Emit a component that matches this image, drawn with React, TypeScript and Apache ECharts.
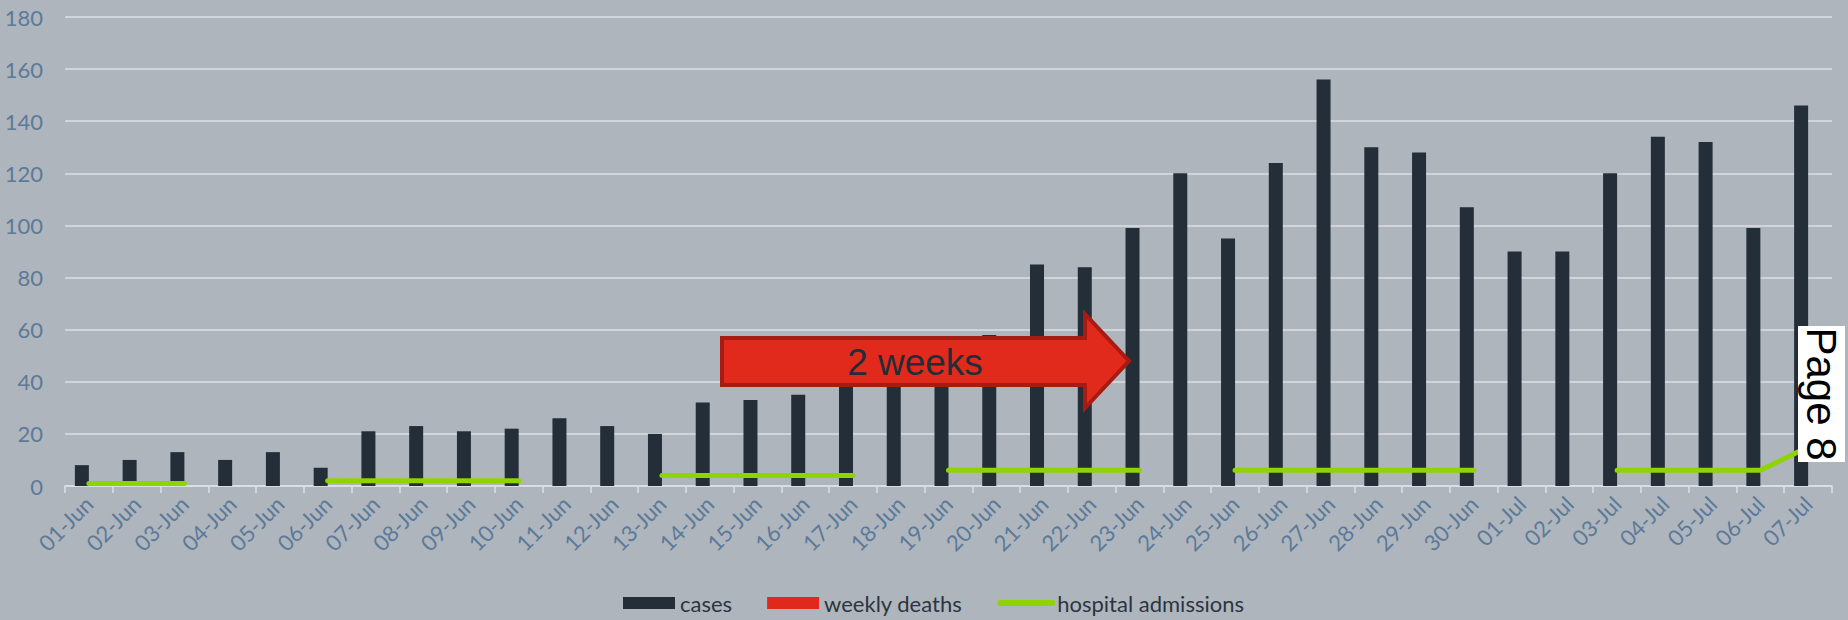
import React, { useEffect, useRef } from "react";
import * as echarts from "echarts";

const categories = [
  "01-Jun", "02-Jun", "03-Jun", "04-Jun", "05-Jun", "06-Jun", "07-Jun", "08-Jun", "09-Jun", "10-Jun",
  "11-Jun", "12-Jun", "13-Jun", "14-Jun", "15-Jun", "16-Jun", "17-Jun", "18-Jun", "19-Jun", "20-Jun",
  "21-Jun", "22-Jun", "23-Jun", "24-Jun", "25-Jun", "26-Jun", "27-Jun", "28-Jun", "29-Jun", "30-Jun",
  "01-Jul", "02-Jul", "03-Jul", "04-Jul", "05-Jul", "06-Jul", "07-Jul",
];

const cases = [
  8, 10, 13, 10, 13, 7, 21, 23, 21, 22,
  26, 23, 20, 32, 33, 35, 41, 45, 44, 58,
  85, 84, 99, 120, 95, 124, 156, 130, 128, 107,
  90, 90, 120, 134, 132, 99, 146,
];

const weeklyDeaths: (number | null)[] = categories.map(() => null);

const hospitalAdmissions: (number | null)[] = [
  1, 1, 1, null, null, 2, 2, 2, 2, 2,
  null, null, 4, 4, 4, 4, 4, null, 6, 6,
  6, 6, 6, null, 6, 6, 6, 6, 6, 6,
  null, null, 6, 6, 6, 6, 15,
];

const yTicks = { min: 0, max: 180, interval: 20 };

export default function App() {
  const ref = useRef<HTMLDivElement>(null);
  useEffect(() => {
    if (!ref.current) return;
    const chart = echarts.init(ref.current, undefined, { renderer: "svg" });
    const axisColor = "#5b7a99";
    const gridColor = "#dde1e6";
    const green = "#8fd400";
    chart.setOption({
      animation: false,
      backgroundColor: "#afb5bd",
      textStyle: { fontFamily: "Lato" },
      grid: { left: 65, right: 16, top: 17, bottom: 134, containLabel: false },
      legend: {
        left: 618,
        top: 587,
        itemWidth: 52,
        itemHeight: 12,
        itemGap: 35,
        textStyle: { color: "#2b3540", fontSize: 22, fontFamily: "Lato" },
        data: [
          { name: "cases", icon: "rect" },
          { name: "weekly deaths", icon: "rect" },
          {
            name: "hospital admissions",
            itemStyle: { opacity: 0 },
            lineStyle: { color: green, width: 6, cap: "round" },
          },
        ],
      },
      xAxis: {
        type: "category",
        data: categories,
        axisLine: { lineStyle: { color: gridColor, width: 1.5 } },
        axisTick: { show: true, length: 7, lineStyle: { color: gridColor, width: 1.5 } },
        axisLabel: { interval: 0, rotate: 45, color: axisColor, fontSize: 22, margin: 14, fontFamily: "Lato" },
      },
      yAxis: {
        type: "value",
        min: yTicks.min,
        max: yTicks.max,
        interval: yTicks.interval,
        axisLine: { show: false },
        axisTick: { show: false },
        axisLabel: { color: axisColor, fontSize: 22, margin: 22, fontFamily: "Lato" },
        splitLine: { lineStyle: { color: gridColor, width: 1.5 } },
      },
      series: [
        {
          name: "cases",
          type: "bar",
          data: cases,
          barWidth: 14,
          barGap: "0%",
          itemStyle: { color: "#232e39" },
        },
        {
          name: "weekly deaths",
          type: "bar",
          data: weeklyDeaths,
          barWidth: 14,
          itemStyle: { color: "#e0291a" },
        },
        {
          name: "hospital admissions",
          type: "line",
          data: hospitalAdmissions,
          symbol: "none",
          showSymbol: false,
          connectNulls: false,
          lineStyle: { color: green, width: 5, cap: "round" },
          itemStyle: { color: green },
          z: 5,
        },
      ],
      graphic: [
        {
          type: "polygon",
          z: 100,
          shape: {
            points: [
              [722, 338], [1085, 338], [1085, 314], [1129, 361],
              [1085, 408], [1085, 385], [722, 385],
            ],
          },
          style: { fill: "#e12a1b", stroke: "#a81b12", lineWidth: 4 },
        },
        {
          type: "text",
          z: 101,
          x: 915,
          y: 362,
          style: {
            text: "2 weeks",
            font: "37px 'Liberation Sans'",
            fill: "#232d38",
            align: "center",
            verticalAlign: "middle",
            textAlign: "center",
            textVerticalAlign: "middle",
          },
        },
        {
          type: "rect",
          z: 100,
          shape: { x: 1798, y: 326, width: 47, height: 136 },
          style: { fill: "#ffffff" },
        },
        {
          type: "text",
          z: 101,
          x: 1821,
          y: 394,
          rotation: -Math.PI / 2,
          style: {
            text: "Page 8",
            font: "42px 'Liberation Sans'",
            fill: "#000000",
            align: "center",
            verticalAlign: "middle",
            textAlign: "center",
            textVerticalAlign: "middle",
          },
        },
      ],
    });
    return () => chart.dispose();
  }, []);
  return (
    <div
      ref={ref}
      style={{ position: "fixed", left: 0, top: 0, width: 1848, height: 620 }}
    />
  );
}
